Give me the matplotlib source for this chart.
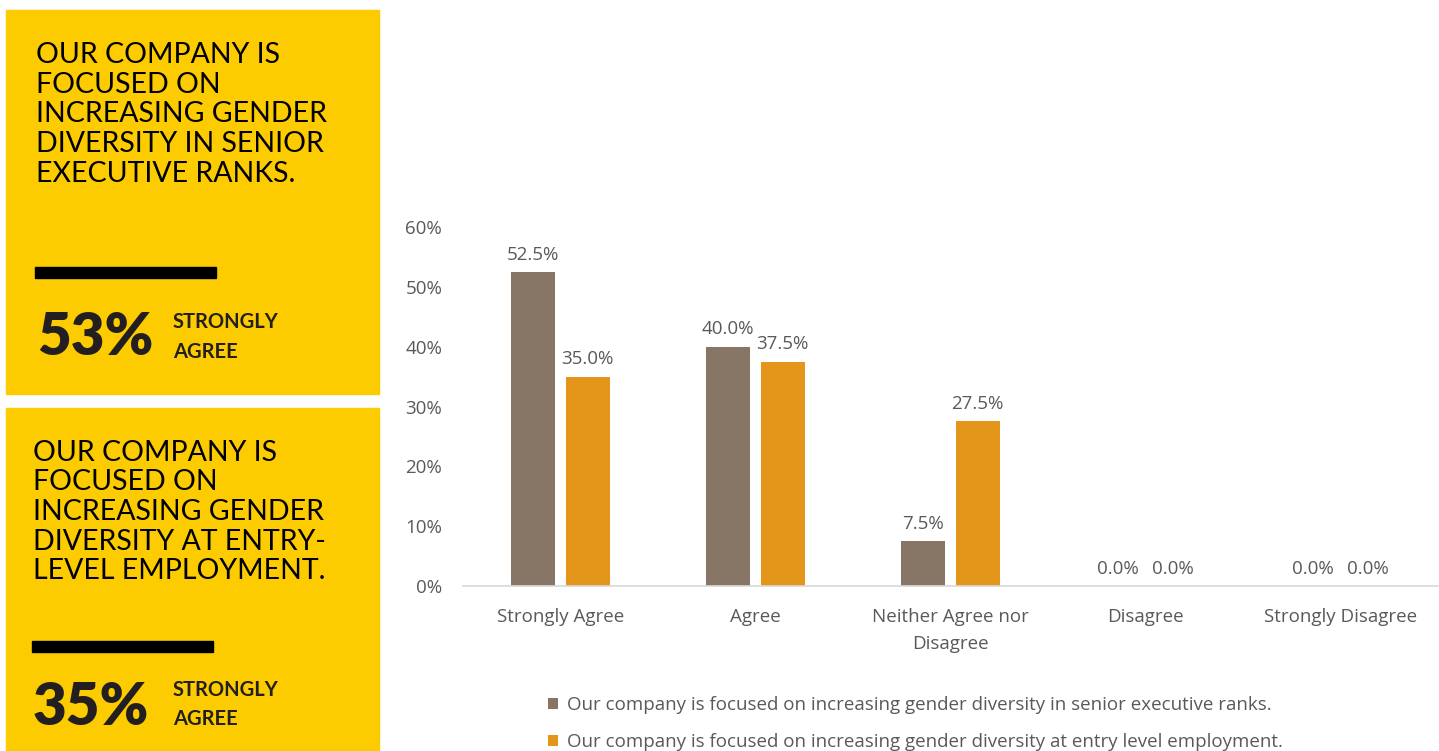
import numpy as np
import matplotlib
matplotlib.use("Agg")
import matplotlib.pyplot as plt
from matplotlib.patches import Rectangle

# survey answers (share of respondents)
categories = ["Strongly Agree", "Agree", "Neither Agree nor\nDisagree", "Disagree", "Strongly Disagree"]
senior_exec = [0.525, 0.400, 0.075, 0.0, 0.0]
entry_level = [0.350, 0.375, 0.275, 0.0, 0.0]
series_names = [
    "Our company is focused on increasing gender diversity in senior executive ranks.",
    "Our company is focused on increasing gender diversity at entry level employment.",
]
yticks = [0, 0.1, 0.2, 0.3, 0.4, 0.5, 0.6]

# side panels
panel_titles = [
    ["OUR COMPANY IS", "FOCUSED ON", "INCREASING GENDER", "DIVERSITY IN SENIOR", "EXECUTIVE RANKS."],
    ["OUR COMPANY IS", "FOCUSED ON", "INCREASING GENDER", "DIVERSITY AT ENTRY-", "LEVEL EMPLOYMENT."],
]
panel_stats = ["53%", "35%"]
panel_stat_label = ["STRONGLY", "AGREE"]

W, H = 1439, 751
grey = "#877665"
orange = "#E4961B"
yellow = "#FCCC00"
txt = "#595959"
fs = 13.5

fig = plt.figure(figsize=(W / 100, H / 100), dpi=100)


def fx(px):
    return px / W


def fy(py):
    return 1 - py / H


# yellow boxes on the left
boxes = [(6, 10, 379, 394), (6, 408, 379, 760)]
title_x = [36, 33]
title_base = [[63, 93, 122, 152, 182], [461, 490, 520, 550, 579]]
bar_rect = [(35, 267, 216, 278), (32, 641, 213, 652)]
stat_pos = [(37, 355, 328, 358), (33, 725, 696, 725)]

for i in range(2):
    x0, y0, x1, y1 = boxes[i]
    fig.patches.append(Rectangle((fx(x0), fy(y1)), fx(x1 - x0), (y1 - y0) / H,
                                 transform=fig.transFigure, color=yellow, zorder=0))
    for line, b in zip(panel_titles[i], title_base[i]):
        fig.text(fx(title_x[i]), fy(b), line, family="Lato", fontsize=20.5,
                 color="black", va="baseline", ha="left")
    bx0, by0, bx1, by1 = bar_rect[i]
    fig.patches.append(Rectangle((fx(bx0), fy(by1)), fx(bx1 - bx0), (by1 - by0) / H,
                                 transform=fig.transFigure, color="black", zorder=1))
    sx, sb, l1, l2 = stat_pos[i]
    fig.text(fx(sx), fy(sb), panel_stats[i], family="Lato", weight="heavy",
             fontsize=42, color="#231F20", va="baseline", ha="left")
    fig.text(fx(173), fy(l1), panel_stat_label[0], family="Lato", weight="bold",
             fontsize=14.5, color="#231F20", va="baseline", ha="left")
    fig.text(fx(173), fy(l2), panel_stat_label[1], family="Lato", weight="bold",
             fontsize=14.5, color="#231F20", va="baseline", ha="left")

# bar chart
ax = fig.add_axes([fx(463), fy(586), fx(1438 - 463), (586 - 227) / H])
x = np.arange(len(categories))
w = 0.225
b1 = ax.bar(x - 0.14, senior_exec, w, color=grey, label=series_names[0])
b2 = ax.bar(x + 0.14, entry_level, w, color=orange, label=series_names[1])

for bars, vals in [(b1, senior_exec), (b2, entry_level)]:
    for rect, v in zip(bars, vals):
        ax.annotate(f"{v * 100:.1f}%", (rect.get_x() + rect.get_width() / 2, v),
                    xytext=(0, 6), textcoords="offset points", ha="center", va="bottom",
                    family="Open Sans", fontsize=fs, color=txt, annotation_clip=False)

ax.set_xlim(-0.5, 4.5)
ax.set_ylim(0, 0.6)
ax.set_yticks(yticks)
ax.set_yticklabels([f"{int(round(t * 100))}%" for t in yticks], family="Open Sans",
                   fontsize=fs, color=txt)
ax.set_xticks(x)
ax.set_xticklabels(categories, family="Open Sans", fontsize=fs, color=txt, linespacing=1.65)
ax.tick_params(axis="y", length=0, pad=15)
ax.tick_params(axis="x", length=0, pad=16)
for s in ["top", "right", "left"]:
    ax.spines[s].set_visible(False)
ax.spines["bottom"].set_color("#D9D9D9")
ax.spines["bottom"].set_linewidth(1.2)

fig.legend(handles=[b1, b2], loc="upper left", bbox_to_anchor=(fx(548), fy(696)),
           frameon=False, borderpad=0, borderaxespad=0, handlelength=0.55,
           handleheight=0.55, handletextpad=0.45, labelspacing=1.02,
           prop={"family": "Open Sans", "size": fs}, labelcolor=txt)

fig.savefig("out.png", dpi=100)
